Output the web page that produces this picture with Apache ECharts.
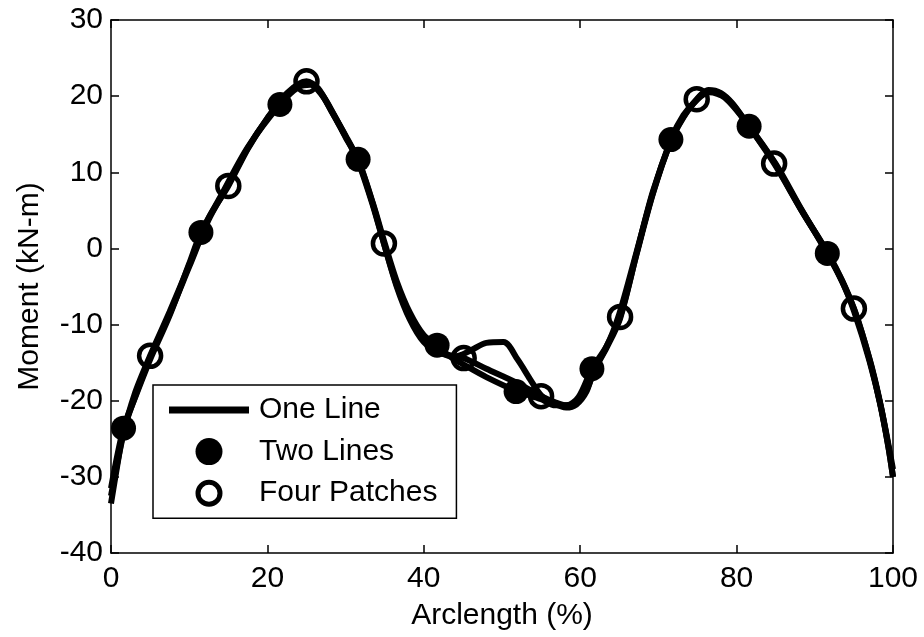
<!DOCTYPE html>
<html>
<head>
<meta charset="utf-8">
<script src="https://cdn.jsdelivr.net/npm/echarts@6/dist/echarts.min.js"></script>
<style>
  html, body { margin: 0; padding: 0; background: #fff; }
  #chart { width: 924px; height: 637px; }
</style>
</head>
<body>
<div id="chart"></div>
<script>
// Bending moment along the arclength for three modelling approaches.
const xTicks = [0, 20, 40, 60, 80, 100];
const yTicks = [-40, -30, -20, -10, 0, 10, 20, 30];

// One Line model: continuous curve
const oneLine = [
  [0, -33.5], [0.8, -28.5], [1.6, -24], [3, -19.7], [5, -14.3], [7.5, -8.6],
  [10, -2.4], [12.5, 3.8], [15, 8.4], [17.5, 13.2], [20, 17.1], [22.5, 20.2],
  [24, 21.4], [25.5, 21.7], [27, 20.2], [28.5, 17.6], [30, 14.7], [31.6, 11.4],
  [33.5, 5.6], [35, 0.3], [36.5, -4.7], [38.2, -9.0], [40, -12], [42, -13.6],
  [44, -14.2], [46, -13.4], [48, -12.4], [50.2, -12.3], [52, -14.6], [53.6, -17.2],
  [55, -19.3], [56.5, -20.3], [58.2, -20.9], [59.5, -20.5], [60.8, -18.8],
  [61.7, -16.2], [63.4, -13], [65.1, -9.2], [67.2, -0.7], [69.3, 7.5], [71.6, 14.1],
  [73.2, 17.3], [74.9, 19.5], [76.4, 20.8], [78, 20.4], [79.5, 19], [81.6, 16],
  [83.5, 13.3], [85, 11], [88.3, 5], [91.7, -0.7], [93.5, -4.2], [95, -7.9],
  [97, -14.5], [98.3, -20], [99.4, -26], [100, -30]
];

// Two Lines model: curve and sampled stations
const twoLinesCurve = [
  [0, -31.5], [1.6, -23.6], [3, -19.8], [5, -14.6], [7.5, -8.8], [10, -2.0],
  [11.5, 2.1], [14, 6.8], [17.5, 13.3], [21.6, 18.9], [24, 21.2], [25.5, 21.5],
  [27, 20.1], [28.5, 17.5], [30, 14.6], [31.6, 11.7], [33.5, 5.9], [35, 0.7],
  [36.5, -4.2], [38.2, -8.4], [40, -11.4], [41.7, -12.8], [43.5, -14.3], [45, -15.2],
  [48, -16.9], [51.8, -18.7], [55, -19.8], [56.8, -20.6], [58.3, -20.6], [59.8, -19.5],
  [61.5, -15.8], [63.4, -12.8], [65, -8.6], [67.2, -0.5], [69.3, 7.3], [71.6, 14.3],
  [73.2, 17.5], [75, 19.6], [76.5, 20.5], [78.5, 19.8], [81.6, 16.05], [85, 11.1],
  [88.3, 5.1], [91.6, -0.66], [93.5, -4.3], [95, -8.2], [97, -14.8], [98.5, -21],
  [100, -29]
];
const twoLinesMarks = [
  [1.6, -23.6], [11.5, 2.1], [21.6, 18.9], [31.6, 11.7], [41.7, -12.7],
  [51.8, -18.8], [61.5, -15.8], [71.6, 14.3], [81.6, 16.05], [91.6, -0.66]
];

// Four Patches model: curve and sampled stations
const fourPatchesCurve = [
  [0, -32.5], [1.6, -24.3], [3, -19.2], [5, -14.1], [7.5, -8.3], [10, -2.2],
  [12.5, 4], [15, 8.2], [17.5, 13.1], [20, 17.1], [22.5, 20.4], [25, 21.95],
  [26.5, 21.0], [28.2, 18.0], [30, 14.8], [31.6, 11.6], [33.5, 5.8], [34.9, 0.65],
  [36.5, -4.9], [38.2, -9.3], [40, -12.3], [42, -13.7], [45.1, -14.4], [48, -15.8],
  [51.8, -17.6], [55, -19.4], [56.8, -20.2], [58.2, -20.6], [59.6, -20.2],
  [60.8, -18.6], [62, -15.6], [63.5, -12.6], [65.1, -9.0], [67.2, -0.8], [69.3, 7.2],
  [71.6, 14.1], [73.2, 17.2], [74.9, 19.6], [76.3, 20.7], [78, 20.3], [79.5, 18.9],
  [81.6, 16.0], [84.8, 11.15], [88.3, 5.0], [91.7, -0.7], [95, -7.9], [97, -14.6],
  [98.3, -20.2], [99.4, -26], [100, -30]
];
const fourPatchesMarks = [
  [5, -14.1], [15, 8.2], [25, 21.95], [34.9, 0.65], [45.1, -14.4],
  [55, -19.4], [65.1, -9.0], [74.9, 19.6], [84.8, 11.15], [95, -7.9]
];

const FONT = '"Liberation Sans", Arial, Helvetica, sans-serif';
const INK = '#000';
const LINE_W = 6;

const axisLine = { show: true, onZero: false, lineStyle: { color: INK, width: 1.5 } };
const tickIn = { show: true, inside: true, length: 8, lineStyle: { color: INK, width: 1.5 } };

function xAxisBase(pos, withLabels) {
  return {
    type: 'value', position: pos, min: xTicks[0], max: xTicks[xTicks.length - 1],
    interval: xTicks[1] - xTicks[0],
    axisLine: axisLine, axisTick: tickIn, splitLine: { show: false },
    axisLabel: withLabels
      ? { show: true, color: INK, fontSize: 30, fontFamily: FONT, margin: 11 }
      : { show: false }
  };
}
function yAxisBase(pos, withLabels) {
  return {
    type: 'value', position: pos, min: yTicks[0], max: yTicks[yTicks.length - 1],
    interval: yTicks[1] - yTicks[0],
    axisLine: axisLine, axisTick: tickIn, splitLine: { show: false },
    axisLabel: withLabels
      ? { show: true, color: INK, fontSize: 30, fontFamily: FONT, margin: 8 }
      : { show: false }
  };
}

const xMain = Object.assign(xAxisBase('bottom', true), {
  name: 'Arclength (%)', nameLocation: 'middle', nameGap: 48,
  nameTextStyle: { color: INK, fontSize: 30, fontFamily: FONT }
});
const yMain = Object.assign(yAxisBase('left', true), {
  name: 'Moment (kN-m)', nameLocation: 'middle', nameGap: 66, nameRotate: 90,
  nameTextStyle: { color: INK, fontSize: 30, fontFamily: FONT }
});

function curve(name, data) {
  return {
    name: name, type: 'line', data: data, smooth: 0.3, symbol: 'none',
    lineStyle: { color: INK, width: LINE_W }, itemStyle: { color: INK },
    z: 2, silent: true
  };
}

const chart = echarts.init(document.getElementById('chart'), null, { renderer: 'canvas' });
chart.setOption({
  animation: false,
  backgroundColor: '#fff',
  grid: { left: 111, right: 31, top: 20, bottom: 84, outerBoundsMode: 'none', containLabel: false },
  xAxis: [xMain, xAxisBase('top', false)],
  yAxis: [yMain, yAxisBase('right', false)],
  legend: {
    orient: 'vertical', left: 153, top: 385,
    padding: [10, 19, 10, 16],
    itemGap: 11.6, itemWidth: 80, itemHeight: 27,
    backgroundColor: '#fff', borderColor: INK, borderWidth: 1.5, borderRadius: 0,
    selectedMode: false,
    textStyle: { color: INK, fontSize: 30, fontFamily: FONT, padding: [0, 0, 0, 5] },
    data: [
      { name: 'One Line', icon: 'path://M0 0H80V7H0Z', itemStyle: { color: INK, borderWidth: 0, opacity: 1 } },
      { name: 'Two Lines', icon: 'circle', itemStyle: { color: INK, borderWidth: 0, opacity: 1 } },
      {
        name: 'Four Patches',
        icon: 'path://M13.5 0A13.5 13.5 0 1 1 13.5 27A13.5 13.5 0 1 1 13.5 0ZM13.5 5A8.5 8.5 0 1 0 13.5 22A8.5 8.5 0 1 0 13.5 5Z',
        itemStyle: { color: INK, borderWidth: 0, opacity: 1 }
      }
    ]
  },
  series: [
    curve('One Line', oneLine),
    curve('Two Lines', twoLinesCurve),
    curve('Four Patches', fourPatchesCurve),
    {
      name: 'Two Lines', type: 'scatter', data: twoLinesMarks,
      symbol: 'circle', symbolSize: 25, itemStyle: { color: INK, opacity: 1 }, z: 4, silent: true
    },
    {
      name: 'Four Patches', type: 'scatter', data: fourPatchesMarks,
      symbol: 'circle', symbolSize: 22,
      itemStyle: { color: 'rgba(0,0,0,0)', borderColor: INK, borderWidth: 4.5, opacity: 1 },
      z: 5, silent: true
    }
  ]
});
</script>
</body>
</html>
